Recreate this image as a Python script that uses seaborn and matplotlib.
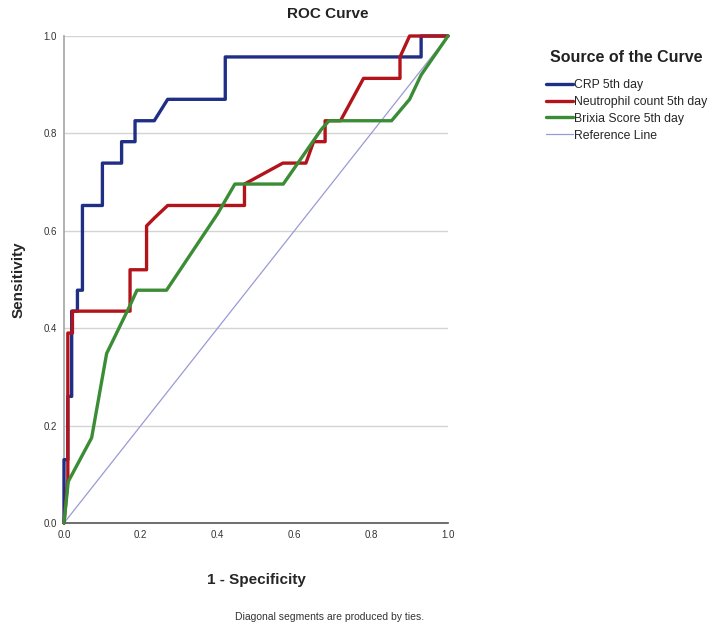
import matplotlib
matplotlib.use("Agg")
import matplotlib.pyplot as plt
import seaborn as sns
import pandas as pd

# ---- data ----
crp_x = [0, 0, 0.01, 0.01, 0.02, 0.02, 0.035, 0.035, 0.048, 0.048, 0.10, 0.10, 0.15, 0.15,
         0.185, 0.185, 0.235, 0.27, 0.42, 0.42, 0.93, 0.93, 1.0]
crp_y = [0, 0.13, 0.13, 0.26, 0.26, 0.435, 0.435, 0.478, 0.478, 0.652, 0.652, 0.739, 0.739, 0.783,
         0.783, 0.826, 0.826, 0.870, 0.870, 0.957, 0.957, 1.0, 1.0]

neu_x = [0, 0.01, 0.01, 0.022, 0.022, 0.172, 0.172, 0.215, 0.215, 0.235, 0.27, 0.47, 0.47,
         0.57, 0.63, 0.65, 0.68, 0.68, 0.72, 0.78, 0.875, 0.875, 0.90, 1.0]
neu_y = [0, 0.09, 0.39, 0.39, 0.435, 0.435, 0.52, 0.52, 0.61, 0.626, 0.652, 0.652, 0.696,
         0.739, 0.739, 0.783, 0.783, 0.826, 0.826, 0.913, 0.913, 0.957, 1.0, 1.0]

brx_x = [0, 0.011, 0.072, 0.111, 0.172, 0.19, 0.267, 0.40, 0.445, 0.571, 0.67, 0.69, 0.853,
         0.90, 0.93, 1.0]
brx_y = [0, 0.085, 0.175, 0.348, 0.447, 0.478, 0.478, 0.635, 0.696, 0.696, 0.808, 0.826, 0.826,
         0.870, 0.92, 1.0]

ref_x = [0, 1]
ref_y = [0, 1]

labels = ["CRP 5th day", "Neutrophil count 5th day", "Brixia Score 5th day", "Reference Line"]
colors = ["#1f2f86", "#b3141c", "#3a8c35", "#9a9ad6"]
ticks = [0.0, 0.2, 0.4, 0.6, 0.8, 1.0]
tick_labels = ["0.0", "0.2", "0.4", "0.6", "0.8", "1.0"]

sns.set_theme(style="white")
plt.rcParams["font.family"] = ["Liberation Sans", "DejaVu Sans"]

fig = plt.figure(figsize=(7.22, 6.29), dpi=100)
ax = fig.add_axes([64 / 722, 1 - 523 / 629, 384 / 722, 487 / 629])

for yv in ticks[1:]:
    ax.axhline(yv, color="#d4d4d4", lw=1.0, zorder=0)

series = [(crp_x, crp_y), (neu_x, neu_y), (brx_x, brx_y), (ref_x, ref_y)]
widths = [2.4, 2.4, 2.4, 0.9]
for (xs, ys), lab, c, w in zip(series, labels, colors, widths):
    df = pd.DataFrame({"x": xs, "y": ys})
    sns.lineplot(data=df, x="x", y="y", sort=False, estimator=None, ax=ax,
                 color=c, lw=w, label=lab, clip_on=False, zorder=3 if w > 1 else 2)

ax.set_xlim(0, 1)
ax.set_ylim(0, 1)
ax.set_xticks(ticks)
ax.set_xticklabels(tick_labels, fontsize=7, color="#333333")
ax.set_yticks(ticks)
ax.set_yticklabels(tick_labels, fontsize=7, color="#333333")
ax.tick_params(length=0, pad=5)
for s in ["top", "right"]:
    ax.spines[s].set_visible(False)
ax.spines["left"].set_color("#a8a8a8")
ax.spines["bottom"].set_color("#555555")
ax.spines["bottom"].set_linewidth(1.2)

ax.set_xlabel("1 - Specificity", fontsize=11, fontweight="bold", labelpad=24)
ax.set_ylabel("Sensitivity", fontsize=11, fontweight="bold", labelpad=13)

fig.text(328 / 722, 1 - 14 / 629, "ROC Curve", ha="center", va="center",
         fontsize=11, fontweight="bold", color="#222222")
fig.text(330 / 722, 1 - 617 / 629, "Diagonal segments are produced by ties.",
         ha="center", va="center", fontsize=7.5, color="#333333")

leg = ax.legend(loc="upper left", bbox_to_anchor=(546 / 722, 1 - 50 / 629),
                bbox_transform=fig.transFigure, frameon=False, fontsize=8.8,
                title="Source of the Curve", title_fontproperties={"weight": "bold", "size": 11.5},
                handlelength=2.2, handletextpad=0.1, labelspacing=0.4, borderaxespad=0,
                borderpad=0)
leg.get_title().set_color("#222222")
leg._legend_box.sep = 10

fig.savefig("out.png", dpi=100)
